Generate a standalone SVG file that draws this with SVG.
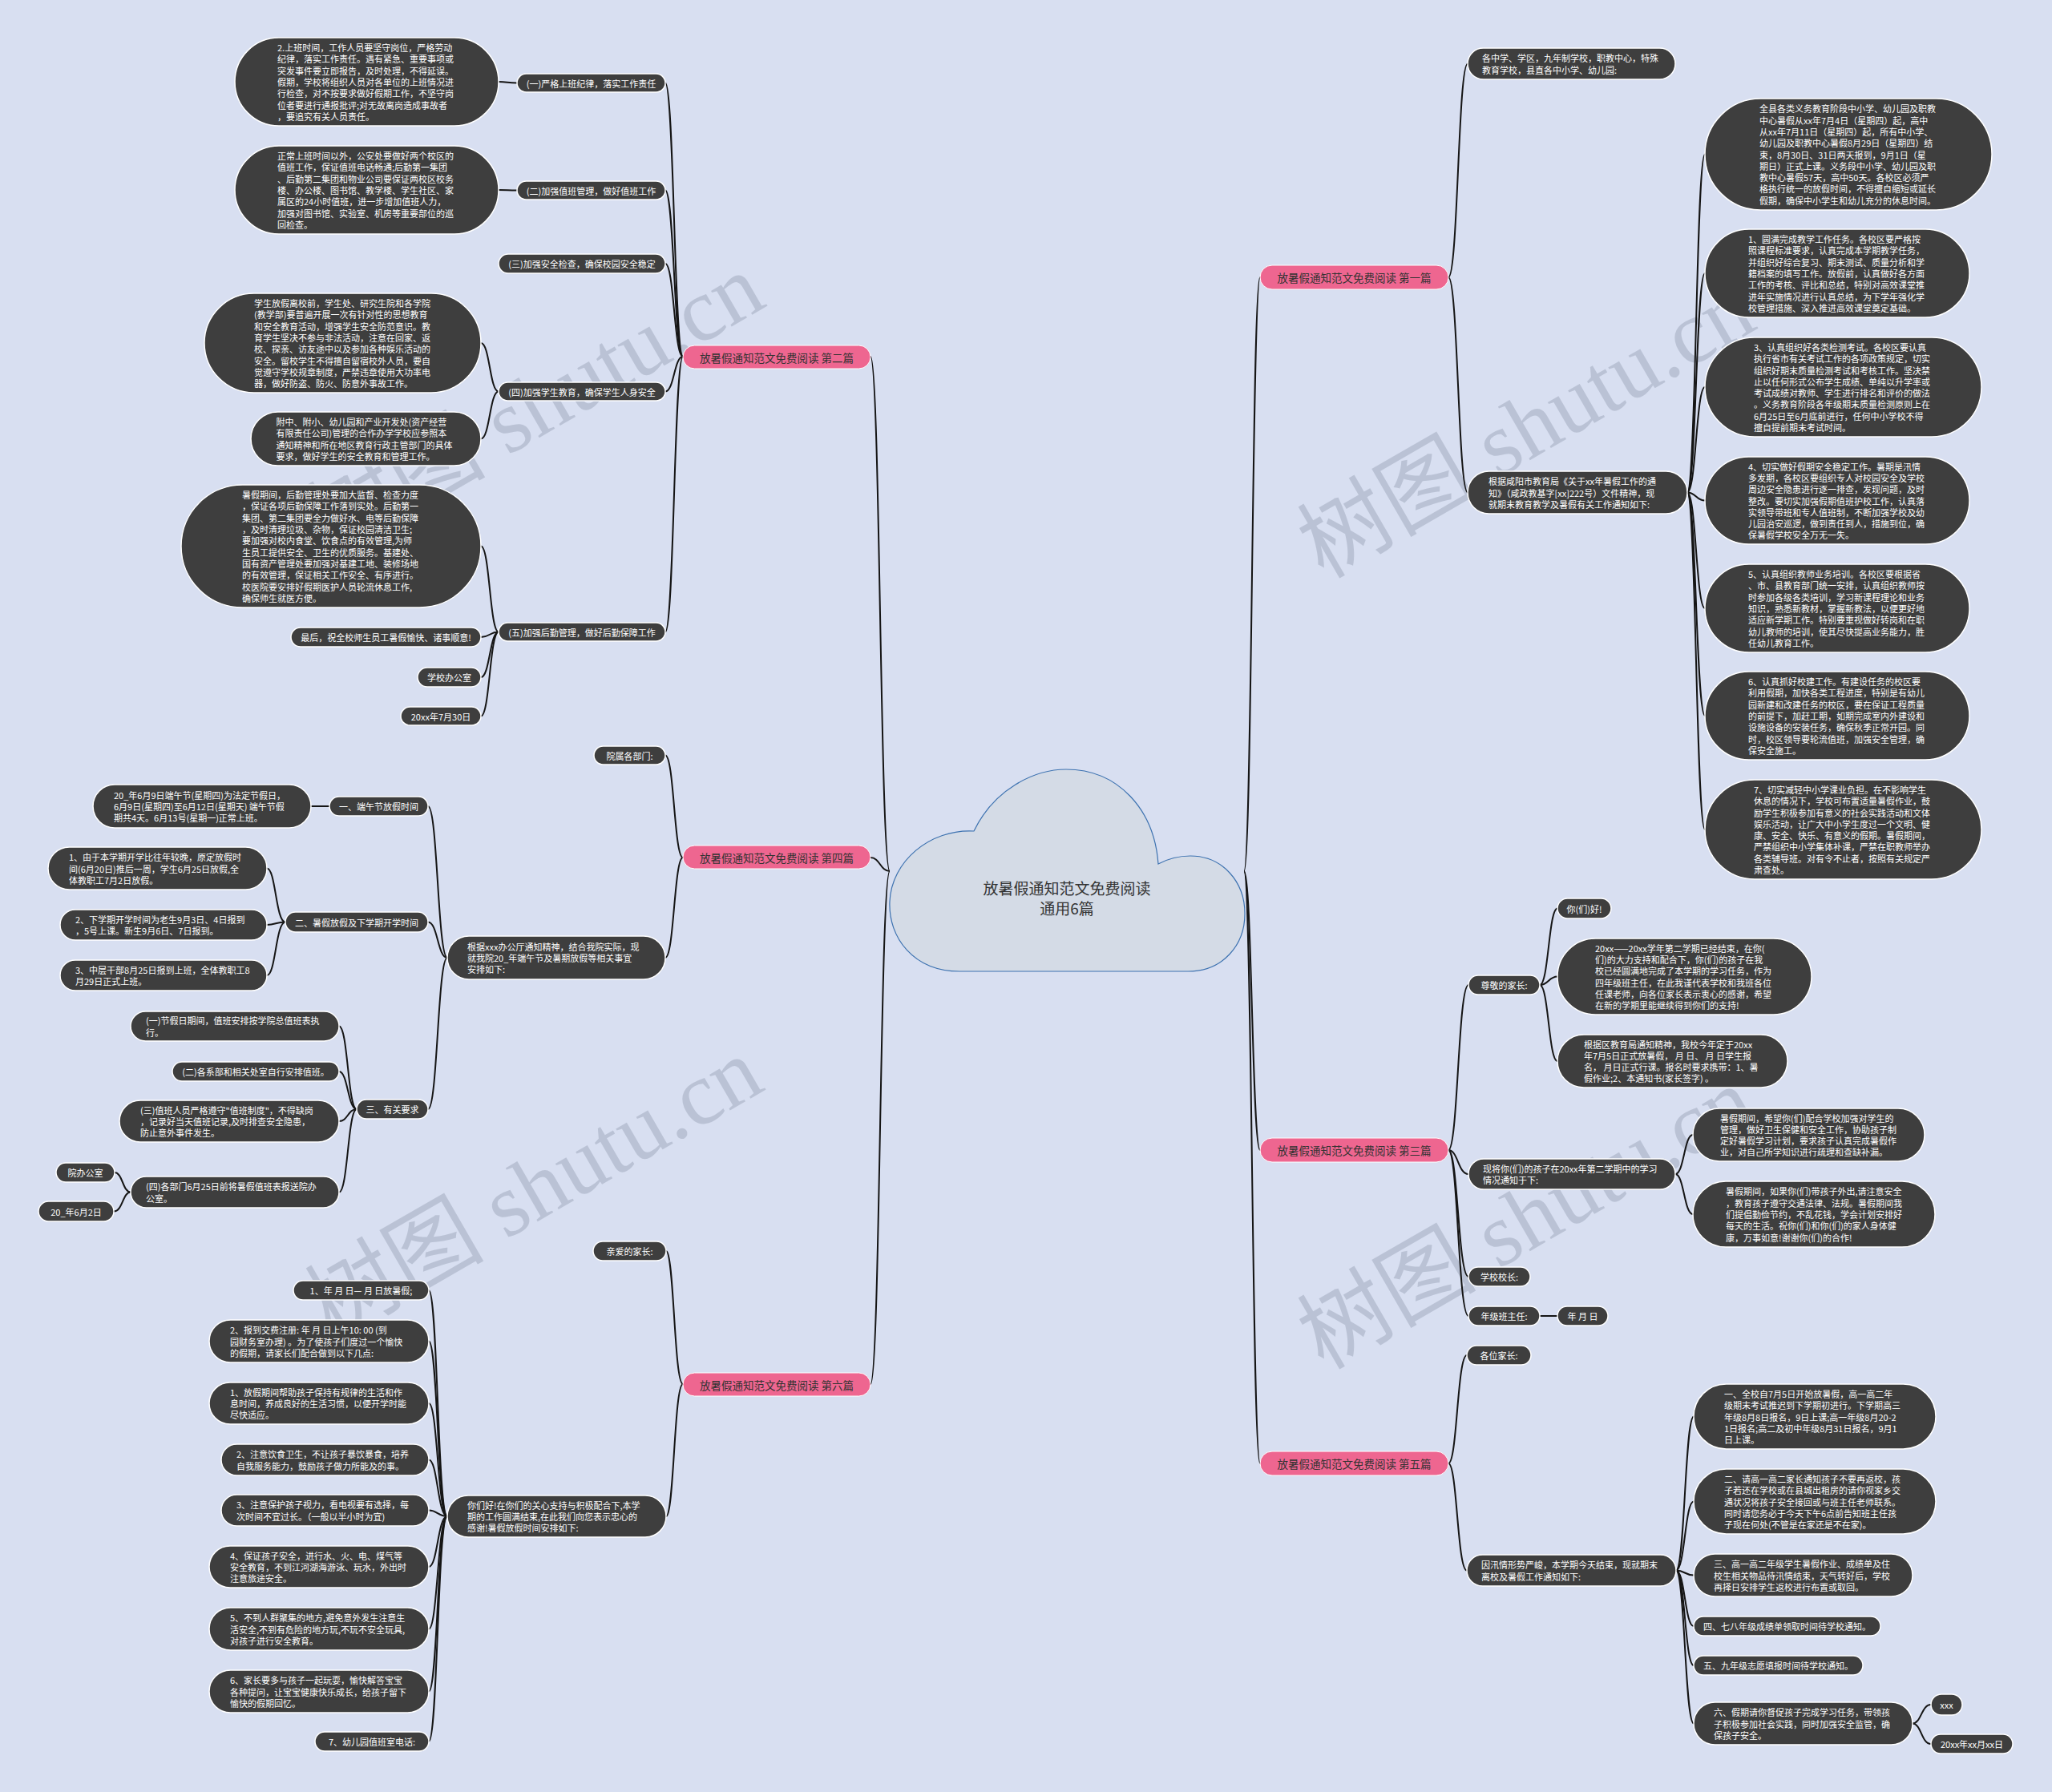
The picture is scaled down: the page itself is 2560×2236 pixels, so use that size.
<svg xmlns="http://www.w3.org/2000/svg" width="2560" height="2236" viewBox="0 0 2560 2236">
<style>
.bg{fill:#d8dff1}
.wm{font-family:"Liberation Serif","Noto Sans CJK SC",serif;font-size:112px;fill:#8f99ad;opacity:0.4;text-anchor:middle;dominant-baseline:central}
.lf rect{fill:#3e3e3e;stroke:#ffffff;stroke-width:1.5}
.lf text{font-family:"Noto Sans CJK SC","Noto Sans",sans-serif;font-size:11px;fill:#ffffff;dominant-baseline:central}
.c text{text-anchor:middle}
.br rect{fill:#ee6690;stroke:#ffffff;stroke-width:1}
.br text{font-family:"Noto Sans CJK SC","Noto Sans",sans-serif;font-size:13.5px;fill:#333333;text-anchor:middle;dominant-baseline:central}
.root path{fill:#d4dbe6;stroke:#3d72b0;stroke-width:1.2}
.root text{font-family:"Noto Sans CJK SC","Noto Sans",sans-serif;font-size:19px;fill:#333333;text-anchor:middle;dominant-baseline:central}
.edges path{fill:none;stroke:#151515;stroke-width:2}
</style>
<rect class="bg" x="0" y="0" width="2560" height="2236"/>
<g id="watermarks">
<text class="wm" x="668" y="505" transform="rotate(-30 668 505)">树图 shutu.cn</text>
<text class="wm" x="666" y="1483" transform="rotate(-30 666 1483)">树图 shutu.cn</text>
<text class="wm" x="1904" y="533" transform="rotate(-30 1904 533)">树图 shutu.cn</text>
<text class="wm" x="1904" y="1520" transform="rotate(-30 1904 1520)">树图 shutu.cn</text>
</g>
<g class="edges" id="connectors">
<path d="M1110 1087 C1098 1087,1098 445,1086 445"/>
<path d="M1110 1087 C1098 1087,1098 1070,1086 1070"/>
<path d="M1110 1087 C1098 1087,1098 1727,1086 1727"/>
<path d="M1552 1087 C1562 1087,1562 346,1572 346"/>
<path d="M1552 1087 C1562 1087,1562 1435,1572 1435"/>
<path d="M1552 1087 C1562 1087,1562 1826,1572 1826"/>
<path d="M852 445 C841 445,841 103.5,830 103.5"/>
<path d="M852 445 C841 445,841 237.5,830 237.5"/>
<path d="M852 445 C841 445,841 329,830 329"/>
<path d="M852 445 C841 445,841 488.5,830 488.5"/>
<path d="M852 445 C841 445,841 788.5,830 788.5"/>
<path d="M645 103.5 C633 103.5,633 102,622 102"/>
<path d="M645 237.5 C633 237.5,633 237,622 237"/>
<path d="M622 488.5 C611 488.5,611 428,600 428"/>
<path d="M622 488.5 C611 488.5,611 547.5,600 547.5"/>
<path d="M622 788.5 C611 788.5,611 681.5,600 681.5"/>
<path d="M622 788.5 C611 788.5,611 795,600 795"/>
<path d="M622 788.5 C611 788.5,611 845,600 845"/>
<path d="M622 788.5 C611 788.5,611 893.5,600 893.5"/>
<path d="M852 1070 C841 1070,841 942.5,830 942.5"/>
<path d="M852 1070 C841 1070,841 1195,830 1195"/>
<path d="M558 1195 C546 1195,546 1006,534 1006"/>
<path d="M558 1195 C546 1195,546 1150.5,534 1150.5"/>
<path d="M558 1195 C546 1195,546 1384,534 1384"/>
<path d="M411 1006 C400 1006,400 1006,388 1006"/>
<path d="M356 1150.5 C344 1150.5,344 1083.5,333 1083.5"/>
<path d="M356 1150.5 C344 1150.5,344 1154,333 1154"/>
<path d="M356 1150.5 C344 1150.5,344 1217,333 1217"/>
<path d="M445 1384 C434 1384,434 1280.5,423 1280.5"/>
<path d="M445 1384 C434 1384,434 1337,423 1337"/>
<path d="M445 1384 C434 1384,434 1399,423 1399"/>
<path d="M445 1384 C434 1384,434 1487.5,423 1487.5"/>
<path d="M163 1487.5 C153 1487.5,153 1463,143 1463"/>
<path d="M163 1487.5 C153 1487.5,153 1511.5,142 1511.5"/>
<path d="M852 1727 C841 1727,841 1561,831 1561"/>
<path d="M852 1727 C841 1727,841 1892,831 1892"/>
<path d="M558 1892 C546 1892,546 1610,535 1610"/>
<path d="M558 1892 C546 1892,546 1673.5,535 1673.5"/>
<path d="M558 1892 C546 1892,546 1751,535 1751"/>
<path d="M558 1892 C546 1892,546 1821.5,535 1821.5"/>
<path d="M558 1892 C546 1892,546 1884.5,535 1884.5"/>
<path d="M558 1892 C546 1892,546 1955,535 1955"/>
<path d="M558 1892 C546 1892,546 2032.5,535 2032.5"/>
<path d="M558 1892 C546 1892,546 2110.5,535 2110.5"/>
<path d="M558 1892 C546 1892,546 2173,535 2173"/>
<path d="M1807 346 C1819 346,1819 79.5,1831 79.5"/>
<path d="M1807 346 C1819 346,1819 614.5,1831 614.5"/>
<path d="M2105 614.5 C2116 614.5,2116 192.5,2127 192.5"/>
<path d="M2105 614.5 C2116 614.5,2116 341,2127 341"/>
<path d="M2105 614.5 C2116 614.5,2116 483,2127 483"/>
<path d="M2105 614.5 C2116 614.5,2116 624.5,2127 624.5"/>
<path d="M2105 614.5 C2116 614.5,2116 759,2127 759"/>
<path d="M2105 614.5 C2116 614.5,2116 893,2127 893"/>
<path d="M2105 614.5 C2116 614.5,2116 1035,2127 1035"/>
<path d="M1807 1435 C1819 1435,1819 1229,1832 1229"/>
<path d="M1807 1435 C1819 1435,1819 1465,1832 1465"/>
<path d="M1807 1435 C1819 1435,1819 1593,1832 1593"/>
<path d="M1807 1435 C1819 1435,1819 1642,1832 1642"/>
<path d="M1921 1229 C1932 1229,1932 1133.5,1943 1133.5"/>
<path d="M1921 1229 C1932 1229,1932 1218.5,1943 1218.5"/>
<path d="M1921 1229 C1932 1229,1932 1324,1943 1324"/>
<path d="M2090 1465 C2101 1465,2101 1416,2112 1416"/>
<path d="M2090 1465 C2101 1465,2101 1515,2112 1515"/>
<path d="M1921 1642 C1932 1642,1932 1642,1943 1642"/>
<path d="M1807 1826 C1818 1826,1818 1691,1830 1691"/>
<path d="M1807 1826 C1818 1826,1818 1959.5,1830 1959.5"/>
<path d="M2091 1959.5 C2102 1959.5,2102 1767.5,2113 1767.5"/>
<path d="M2091 1959.5 C2102 1959.5,2102 1873.5,2113 1873.5"/>
<path d="M2091 1959.5 C2102 1959.5,2102 1965.5,2113 1965.5"/>
<path d="M2091 1959.5 C2102 1959.5,2102 2029,2113 2029"/>
<path d="M2091 1959.5 C2102 1959.5,2102 2078,2113 2078"/>
<path d="M2091 1959.5 C2102 1959.5,2102 2150.5,2113 2150.5"/>
<path d="M2386 2150.5 C2397 2150.5,2397 2127,2409 2127"/>
<path d="M2386 2150.5 C2397 2150.5,2397 2176,2409 2176"/>
</g>
<g id="root" class="root">
<path d="M1197 1212 C1140 1212,1108 1170,1110 1125 C1112 1075,1160 1034,1215 1037 C1240 985,1290 960,1330 960 C1395 960,1440 1010,1445 1078 C1460 1070,1475 1068,1485 1068 C1525 1068,1553 1100,1553 1140 C1553 1180,1525 1212,1482 1212 Z"/>
<text x="1331" y="1107">放暑假通知范文免费阅读</text>
<text x="1331" y="1132">通用6篇</text>
</g>
<g id="b2" class="br"><rect x="852" y="431" width="234" height="29" rx="14.5"/><text x="969" y="445.5">放暑假通知范文免费阅读 第二篇</text></g>
<g id="b4" class="br"><rect x="852" y="1055" width="234" height="29" rx="14.5"/><text x="969" y="1069.5">放暑假通知范文免费阅读 第四篇</text></g>
<g id="b6" class="br"><rect x="852" y="1713" width="234" height="29" rx="14.5"/><text x="969" y="1727.5">放暑假通知范文免费阅读 第六篇</text></g>
<g id="b1" class="br"><rect x="1572" y="331" width="235" height="30" rx="15"/><text x="1689.5" y="346">放暑假通知范文免费阅读 第一篇</text></g>
<g id="b3" class="br"><rect x="1572" y="1420" width="235" height="30" rx="15"/><text x="1689.5" y="1435">放暑假通知范文免费阅读 第三篇</text></g>
<g id="b5" class="br"><rect x="1572" y="1811" width="235" height="30" rx="15"/><text x="1689.5" y="1826">放暑假通知范文免费阅读 第五篇</text></g>

<g id="n2-1" class="lf c"><rect x="645" y="92" width="185" height="23" rx="11.5"/><text x="737.5" y="103.5">(一)严格上班纪律，落实工作责任</text></g>
<g id="n2-2" class="lf c"><rect x="645" y="226" width="185" height="23" rx="11.5"/><text x="737.5" y="237.5">(二)加强值班管理，做好值班工作</text></g>
<g id="n2-3" class="lf c"><rect x="622" y="317" width="208" height="24" rx="12"/><text x="726" y="329">(三)加强安全检查，确保校园安全稳定</text></g>
<g id="n2-4" class="lf c"><rect x="622" y="477" width="208" height="23" rx="11.5"/><text x="726" y="488.5">(四)加强学生教育，确保学生人身安全</text></g>
<g id="n2-5" class="lf c"><rect x="622" y="777" width="208" height="23" rx="11.5"/><text x="726" y="788.5">(五)加强后勤管理，做好后勤保障工作</text></g>
<g id="n2-1a" class="lf"><rect x="293" y="47" width="329" height="110" rx="55"/><text x="346" y="59.1"><tspan x="346">2.上班时间，工作人员要坚守岗位，严格劳动</tspan><tspan x="346" dy="14.3">纪律，落实工作责任。遇有紧急、重要事项或</tspan><tspan x="346" dy="14.3">突发事件要立即报告，及时处理，不得延误。</tspan><tspan x="346" dy="14.3">假期，学校将组织人员对各单位的上班情况进</tspan><tspan x="346" dy="14.3">行检查，对不按要求做好假期工作，不坚守岗</tspan><tspan x="346" dy="14.3">位者要进行通报批评;对无故离岗造成事故者</tspan><tspan x="346" dy="14.3">，要追究有关人员责任。</tspan></text></g>
<g id="n2-2a" class="lf"><rect x="293" y="182" width="329" height="110" rx="55"/><text x="346" y="194.1"><tspan x="346">正常上班时间以外，公安处要做好两个校区的</tspan><tspan x="346" dy="14.3">值班工作，保证值班电话畅通;后勤第一集团</tspan><tspan x="346" dy="14.3">、后勤第二集团和物业公司要保证两校区校务</tspan><tspan x="346" dy="14.3">楼、办公楼、图书馆、教学楼、学生社区、家</tspan><tspan x="346" dy="14.3">属区的24小时值班，进一步增加值班人力，</tspan><tspan x="346" dy="14.3">加强对图书馆、实验室、机房等重要部位的巡</tspan><tspan x="346" dy="14.3">回检查。</tspan></text></g>
<g id="n2-4a" class="lf"><rect x="255" y="366" width="345" height="124" rx="62"/><text x="317" y="378"><tspan x="317">学生放假离校前，学生处、研究生院和各学院</tspan><tspan x="317" dy="14.3">(教学部)要普遍开展一次有针对性的思想教育</tspan><tspan x="317" dy="14.3">和安全教育活动，增强学生安全防范意识。教</tspan><tspan x="317" dy="14.3">育学生坚决不参与非法活动，注意在回家、返</tspan><tspan x="317" dy="14.3">校、探亲、访友途中以及参加各种娱乐活动的</tspan><tspan x="317" dy="14.3">安全。留校学生不得擅自留宿校外人员，要自</tspan><tspan x="317" dy="14.3">觉遵守学校规章制度，严禁违章使用大功率电</tspan><tspan x="317" dy="14.3">器，做好防盗、防火、防意外事故工作。</tspan></text></g>
<g id="n2-4b" class="lf"><rect x="313" y="514" width="287" height="67" rx="33.5"/><text x="344.5" y="526.05"><tspan x="344.5">附中、附小、幼儿园和产业开发处(资产经营</tspan><tspan x="344.5" dy="14.3">有限责任公司)管理的合作办学学校应参照本</tspan><tspan x="344.5" dy="14.3">通知精神和所在地区教育行政主管部门的具体</tspan><tspan x="344.5" dy="14.3">要求，做好学生的安全教育和管理工作。</tspan></text></g>
<g id="n2-5a" class="lf"><rect x="226" y="605" width="374" height="153" rx="76.5"/><text x="302" y="617.15"><tspan x="302">暑假期间，后勤管理处要加大监督、检查力度</tspan><tspan x="302" dy="14.3">，保证各项后勤保障工作落到实处。后勤第一</tspan><tspan x="302" dy="14.3">集团、第二集团要全力做好水、电等后勤保障</tspan><tspan x="302" dy="14.3">，及时清理垃圾、杂物，保证校园清洁卫生;</tspan><tspan x="302" dy="14.3">要加强对校内食堂、饮食点的有效管理,为师</tspan><tspan x="302" dy="14.3">生员工提供安全、卫生的优质服务。基建处、</tspan><tspan x="302" dy="14.3">国有资产管理处要加强对基建工地、装修场地</tspan><tspan x="302" dy="14.3">的有效管理，保证相关工作安全、有序进行。</tspan><tspan x="302" dy="14.3">校医院要安排好假期医护人员轮流休息工作,</tspan><tspan x="302" dy="14.3">确保师生就医方便。</tspan></text></g>
<g id="n2-5b" class="lf c"><rect x="363" y="783" width="237" height="24" rx="12"/><text x="481.5" y="795">最后，祝全校师生员工暑假愉快、诸事顺意!</text></g>
<g id="n2-5c" class="lf c"><rect x="521" y="833" width="79" height="24" rx="12"/><text x="560.5" y="845">学校办公室</text></g>
<g id="n2-5d" class="lf c"><rect x="500" y="882" width="100" height="23" rx="11.5"/><text x="550" y="893.5">20xx年7月30日</text></g>

<g id="n4-0" class="lf c"><rect x="741" y="931" width="89" height="23" rx="11.5"/><text x="785.5" y="942.5">院属各部门:</text></g>
<g id="n4-1" class="lf"><rect x="558" y="1168" width="272" height="54" rx="27"/><text x="583" y="1180.7"><tspan x="583">根据xxx办公厅通知精神，结合我院实际，现</tspan><tspan x="583" dy="14.3">就我院20_年端午节及暑期放假等相关事宜</tspan><tspan x="583" dy="14.3">安排如下:</tspan></text></g>
<g id="n4-s1" class="lf c"><rect x="411" y="994" width="123" height="24" rx="12"/><text x="472.5" y="1006">一、端午节放假时间</text></g>
<g id="n4-s2" class="lf c"><rect x="356" y="1138" width="178" height="25" rx="12.5"/><text x="445" y="1150.5">二、暑假放假及下学期开学时间</text></g>
<g id="n4-s3" class="lf c"><rect x="445" y="1372" width="89" height="24" rx="12"/><text x="489.5" y="1384">三、有关要求</text></g>
<g id="n4-l1" class="lf"><rect x="116" y="979" width="272" height="54" rx="27"/><text x="142" y="991.7"><tspan x="142">20_年6月9日端午节(星期四)为法定节假日，</tspan><tspan x="142" dy="14.3">6月9日(星期四)至6月12日(星期天) 端午节假</tspan><tspan x="142" dy="14.3">期共4天。6月13号(星期一)正常上班。</tspan></text></g>
<g id="n4-l2a" class="lf"><rect x="60" y="1057" width="273" height="53" rx="26.5"/><text x="86" y="1069.2"><tspan x="86">1、由于本学期开学比往年较晚，原定放假时</tspan><tspan x="86" dy="14.3">间(6月20日)推后一周，学生6月25日放假,全</tspan><tspan x="86" dy="14.3">体教职工7月2日放假。</tspan></text></g>
<g id="n4-l2b" class="lf"><rect x="75" y="1135" width="258" height="38" rx="19"/><text x="94" y="1146.85"><tspan x="94">2、下学期开学时间为老生9月3日、4日报到</tspan><tspan x="94" dy="14.3">，5号上课。新生9月6日、7日报到。</tspan></text></g>
<g id="n4-l2c" class="lf"><rect x="75" y="1198" width="258" height="38" rx="19"/><text x="94" y="1209.85"><tspan x="94">3、中层干部8月25日报到上班，全体教职工8</tspan><tspan x="94" dy="14.3">月29日正式上班。</tspan></text></g>
<g id="n4-l3a" class="lf"><rect x="163" y="1262" width="260" height="37" rx="18.5"/><text x="182" y="1273.35"><tspan x="182">(一)节假日期间，值班安排按学院总值班表执</tspan><tspan x="182" dy="14.3">行。</tspan></text></g>
<g id="n4-l3b" class="lf c"><rect x="215" y="1325" width="208" height="24" rx="12"/><text x="319" y="1337">(二)各系部和相关处室自行安排值班。</text></g>
<g id="n4-l3c" class="lf"><rect x="149" y="1373" width="274" height="52" rx="26"/><text x="175" y="1384.7"><tspan x="175">(三)值班人员严格遵守"值班制度"，不得缺岗</tspan><tspan x="175" dy="14.3">，记录好当天值班记录,及时排查安全隐患，</tspan><tspan x="175" dy="14.3">防止意外事件发生。</tspan></text></g>
<g id="n4-l3d" class="lf"><rect x="163" y="1468" width="260" height="39" rx="19.5"/><text x="182" y="1480.35"><tspan x="182">(四)各部门6月25日前将暑假值班表报送院办</tspan><tspan x="182" dy="14.3">公室。</tspan></text></g>
<g id="n4-l3d1" class="lf c"><rect x="70" y="1451" width="73" height="24" rx="12"/><text x="106.5" y="1463">院办公室</text></g>
<g id="n4-l3d2" class="lf c"><rect x="48" y="1499" width="94" height="25" rx="12.5"/><text x="95" y="1511.5">20_年6月2日</text></g>

<g id="n6-0" class="lf c"><rect x="740" y="1549" width="91" height="24" rx="12"/><text x="785.5" y="1561">亲爱的家长:</text></g>
<g id="n6-1" class="lf"><rect x="558" y="1866" width="273" height="52" rx="26"/><text x="583" y="1877.7"><tspan x="583">你们好!在你们的关心支持与积极配合下,本学</tspan><tspan x="583" dy="14.3">期的工作圆满结束,在此我们向您表示忠心的</tspan><tspan x="583" dy="14.3">感谢!暑假放假时间安排如下:</tspan></text></g>
<g id="n6-a" class="lf c"><rect x="366" y="1598" width="169" height="24" rx="12"/><text x="450.5" y="1610">1、年 月 日— 月 日放暑假;</text></g>
<g id="n6-b" class="lf"><rect x="261" y="1647" width="274" height="53" rx="26.5"/><text x="287" y="1659.2"><tspan x="287">2、报到交费注册:  年 月 日上午10: 00 (到</tspan><tspan x="287" dy="14.3">园财务室办理) 。为了使孩子们度过一个愉快</tspan><tspan x="287" dy="14.3">的假期，请家长们配合做到以下几点:</tspan></text></g>
<g id="n6-c" class="lf"><rect x="261" y="1725" width="274" height="52" rx="26"/><text x="287" y="1736.7"><tspan x="287">1、放假期间帮助孩子保持有规律的生活和作</tspan><tspan x="287" dy="14.3">息时间，养成良好的生活习惯，以便开学时能</tspan><tspan x="287" dy="14.3">尽快适应。</tspan></text></g>
<g id="n6-d" class="lf"><rect x="276" y="1802" width="259" height="39" rx="19.5"/><text x="295" y="1814.35"><tspan x="295">2、注意饮食卫生，不让孩子暴饮暴食，培养</tspan><tspan x="295" dy="14.3">自我服务能力，鼓励孩子做力所能及的事。</tspan></text></g>
<g id="n6-e" class="lf"><rect x="276" y="1865" width="259" height="39" rx="19.5"/><text x="295" y="1877.35"><tspan x="295">3、注意保护孩子视力，看电视要有选择，每</tspan><tspan x="295" dy="14.3">次时间不宜过长。（一般以半小时为宜)</tspan></text></g>
<g id="n6-f" class="lf"><rect x="261" y="1929" width="274" height="52" rx="26"/><text x="287" y="1940.7"><tspan x="287">4、保证孩子安全，进行水、火、电、煤气等</tspan><tspan x="287" dy="14.3">安全教育，不到江河湖海游泳、玩水，外出时</tspan><tspan x="287" dy="14.3">注意旅途安全。</tspan></text></g>
<g id="n6-g" class="lf"><rect x="261" y="2006" width="274" height="53" rx="26.5"/><text x="287" y="2018.2"><tspan x="287">5、不到人群聚集的地方,避免意外发生注意生</tspan><tspan x="287" dy="14.3">活安全,不到有危险的地方玩,不玩不安全玩具,</tspan><tspan x="287" dy="14.3">对孩子进行安全教育。</tspan></text></g>
<g id="n6-h" class="lf"><rect x="261" y="2084" width="274" height="53" rx="26.5"/><text x="287" y="2096.2"><tspan x="287">6、家长要多与孩子一起玩耍，愉快解答宝宝</tspan><tspan x="287" dy="14.3">各种提问，让宝宝健康快乐成长，给孩子留下</tspan><tspan x="287" dy="14.3">愉快的假期回忆。</tspan></text></g>
<g id="n6-i" class="lf c"><rect x="393" y="2161" width="142" height="24" rx="12"/><text x="464" y="2173">7、幼儿园值班室电话:</text></g>

<g id="n1-0" class="lf"><rect x="1831" y="60" width="259" height="39" rx="19.5"/><text x="1849" y="72.35"><tspan x="1849">各中学、学区，九年制学校，职教中心，特殊</tspan><tspan x="1849" dy="14.3">教育学校，县直各中小学、幼儿园:</tspan></text></g>
<g id="n1-1" class="lf"><rect x="1831" y="588" width="274" height="53" rx="26.5"/><text x="1857" y="600.2"><tspan x="1857">根据咸阳市教育局《关于xx年暑假工作的通</tspan><tspan x="1857" dy="14.3">知》（咸政教基字[xx]222号）文件精神，现</tspan><tspan x="1857" dy="14.3">就期末教育教学及暑假有关工作通知如下:</tspan></text></g>
<g id="n1-a" class="lf"><rect x="2127" y="123" width="358" height="139" rx="69.5"/><text x="2195" y="135.3"><tspan x="2195">全县各类义务教育阶段中小学、幼儿园及职教</tspan><tspan x="2195" dy="14.3">中心暑假从xx年7月4日（星期四）起，高中</tspan><tspan x="2195" dy="14.3">从xx年7月11日（星期四）起，所有中小学、</tspan><tspan x="2195" dy="14.3">幼儿园及职教中心暑假8月29日（星期四）结</tspan><tspan x="2195" dy="14.3">束，8月30日、31日两天报到，9月1日（星</tspan><tspan x="2195" dy="14.3">期日）正式上课。义务段中小学、幼儿园及职</tspan><tspan x="2195" dy="14.3">教中心暑假57天，高中50天。各校区必须严</tspan><tspan x="2195" dy="14.3">格执行统一的放假时间，不得擅自缩短或延长</tspan><tspan x="2195" dy="14.3">假期，确保中小学生和幼儿充分的休息时间。</tspan></text></g>
<g id="n1-b" class="lf"><rect x="2127" y="286" width="330" height="110" rx="55"/><text x="2181" y="298.1"><tspan x="2181">1、圆满完成教学工作任务。各校区要严格按</tspan><tspan x="2181" dy="14.3">照课程标准要求，认真完成本学期教学任务，</tspan><tspan x="2181" dy="14.3">并组织好综合复习、期末测试、质量分析和学</tspan><tspan x="2181" dy="14.3">籍档案的填写工作。放假前，认真做好各方面</tspan><tspan x="2181" dy="14.3">工作的考核、评比和总结，特别对高效课堂推</tspan><tspan x="2181" dy="14.3">进年实施情况进行认真总结，为下学年强化学</tspan><tspan x="2181" dy="14.3">校管理措施、深入推进高效课堂奠定基础。</tspan></text></g>
<g id="n1-c" class="lf"><rect x="2127" y="421" width="345" height="124" rx="62"/><text x="2188" y="432.95"><tspan x="2188">3、认真组织好各类检测考试。各校区要认真</tspan><tspan x="2188" dy="14.3">执行省市有关考试工作的各项政策规定，切实</tspan><tspan x="2188" dy="14.3">组织好期末质量检测考试和考核工作。坚决禁</tspan><tspan x="2188" dy="14.3">止以任何形式公布学生成绩、单纯以升学率或</tspan><tspan x="2188" dy="14.3">考试成绩对教师、学生进行排名和评价的做法</tspan><tspan x="2188" dy="14.3">。义务教育阶段各年级期末质量检测原则上在</tspan><tspan x="2188" dy="14.3">6月25日至6月底前进行，任何中小学校不得</tspan><tspan x="2188" dy="14.3">擅自提前期末考试时间。</tspan></text></g>
<g id="n1-d" class="lf"><rect x="2127" y="570" width="330" height="109" rx="54.5"/><text x="2181" y="581.6"><tspan x="2181">4、切实做好假期安全稳定工作。暑期是汛情</tspan><tspan x="2181" dy="14.3">多发期，各校区要组织专人对校园安全及学校</tspan><tspan x="2181" dy="14.3">周边安全隐患进行逐一排查，发现问题，及时</tspan><tspan x="2181" dy="14.3">整改。要切实加强假期值班护校工作，认真落</tspan><tspan x="2181" dy="14.3">实领导带班和专人值班制，不断加强学校及幼</tspan><tspan x="2181" dy="14.3">儿园治安巡逻，做到责任到人，措施到位，确</tspan><tspan x="2181" dy="14.3">保暑假学校安全万无一失。</tspan></text></g>
<g id="n1-e" class="lf"><rect x="2127" y="704" width="330" height="110" rx="55"/><text x="2181" y="716.1"><tspan x="2181">5、认真组织教师业务培训。各校区要根据省</tspan><tspan x="2181" dy="14.3">、市、县教育部门统一安排，认真组织教师按</tspan><tspan x="2181" dy="14.3">时参加各级各类培训，学习新课程理论和业务</tspan><tspan x="2181" dy="14.3">知识，熟悉新教材，掌握新教法，以便更好地</tspan><tspan x="2181" dy="14.3">适应新学期工作。特别要重视做好转岗和在职</tspan><tspan x="2181" dy="14.3">幼儿教师的培训，使其尽快提高业务能力，胜</tspan><tspan x="2181" dy="14.3">任幼儿教育工作。</tspan></text></g>
<g id="n1-f" class="lf"><rect x="2127" y="838" width="330" height="110" rx="55"/><text x="2181" y="850.1"><tspan x="2181">6、认真抓好校建工作。有建设任务的校区要</tspan><tspan x="2181" dy="14.3">利用假期，加快各类工程进度，特别是有幼儿</tspan><tspan x="2181" dy="14.3">园新建和改建任务的校区，要在保证工程质量</tspan><tspan x="2181" dy="14.3">的前提下，加赶工期，如期完成室内外建设和</tspan><tspan x="2181" dy="14.3">设施设备的安装任务，确保秋季正常开园。同</tspan><tspan x="2181" dy="14.3">时，校区领导要轮流值班，加强安全管理，确</tspan><tspan x="2181" dy="14.3">保安全施工。</tspan></text></g>
<g id="n1-g" class="lf"><rect x="2127" y="973" width="345" height="124" rx="62"/><text x="2188" y="984.95"><tspan x="2188">7、切实减轻中小学课业负担。在不影响学生</tspan><tspan x="2188" dy="14.3">休息的情况下，学校可布置适量暑假作业，鼓</tspan><tspan x="2188" dy="14.3">励学生积极参加有意义的社会实践活动和文体</tspan><tspan x="2188" dy="14.3">娱乐活动，让广大中小学生度过一个文明、健</tspan><tspan x="2188" dy="14.3">康、安全、快乐、有意义的假期。暑假期间，</tspan><tspan x="2188" dy="14.3">严禁组织中小学集体补课，严禁在职教师举办</tspan><tspan x="2188" dy="14.3">各类辅导班。对有令不止者，按照有关规定严</tspan><tspan x="2188" dy="14.3">肃查处。</tspan></text></g>

<g id="n3-0" class="lf c"><rect x="1832" y="1217" width="89" height="24" rx="12"/><text x="1876.5" y="1229">尊敬的家长:</text></g>
<g id="n3-0a" class="lf c"><rect x="1943" y="1121" width="67" height="25" rx="12.5"/><text x="1976.5" y="1133.5">你(们)好!</text></g>
<g id="n3-0b" class="lf"><rect x="1943" y="1171" width="317" height="95" rx="47.5"/><text x="1990" y="1182.75"><tspan x="1990">20xx——20xx学年第二学期已经结束，在你(</tspan><tspan x="1990" dy="14.3">们)的大力支持和配合下，你(们)的孩子在我</tspan><tspan x="1990" dy="14.3">校已经圆满地完成了本学期的学习任务，作为</tspan><tspan x="1990" dy="14.3">四年级班主任，在此我谨代表学校和我班各位</tspan><tspan x="1990" dy="14.3">任课老师，向各位家长表示衷心的感谢，希望</tspan><tspan x="1990" dy="14.3">在新的学期里能继续得到你们的支持!</tspan></text></g>
<g id="n3-0c" class="lf"><rect x="1943" y="1291" width="287" height="66" rx="33"/><text x="1976" y="1302.55"><tspan x="1976">根据区教育局通知精神，我校今年定于20xx</tspan><tspan x="1976" dy="14.3">年7月5日正式放暑假， 月 日、 月 日学生报</tspan><tspan x="1976" dy="14.3">名， 月日正式行课。报名时要求携带：1、暑</tspan><tspan x="1976" dy="14.3">假作业;2、本通知书(家长签字) 。</tspan></text></g>
<g id="n3-1" class="lf"><rect x="1832" y="1446" width="258" height="38" rx="19"/><text x="1850" y="1457.85"><tspan x="1850">现将你(们)的孩子在20xx年第二学期中的学习</tspan><tspan x="1850" dy="14.3">情况通知于下:</tspan></text></g>
<g id="n3-1a" class="lf"><rect x="2112" y="1383" width="289" height="66" rx="33"/><text x="2146" y="1394.55"><tspan x="2146">暑假期间，希望你(们)配合学校加强对学生的</tspan><tspan x="2146" dy="14.3">管理，做好卫生保健和安全工作，协助孩子制</tspan><tspan x="2146" dy="14.3">定好暑假学习计划，要求孩子认真完成暑假作</tspan><tspan x="2146" dy="14.3">业，对自己所学知识进行疏理和查缺补漏。</tspan></text></g>
<g id="n3-1b" class="lf"><rect x="2112" y="1474" width="302" height="82" rx="41"/><text x="2153" y="1486.4"><tspan x="2153">暑假期间，如果你(们)带孩子外出,请注意安全</tspan><tspan x="2153" dy="14.3">，教育孩子遵守交通法律、法规。暑假期间我</tspan><tspan x="2153" dy="14.3">们提倡勤俭节约，不乱花钱，学会计划安排好</tspan><tspan x="2153" dy="14.3">每天的生活。祝你(们)和你(们)的家人身体健</tspan><tspan x="2153" dy="14.3">康，万事如意!谢谢你(们)的合作!</tspan></text></g>
<g id="n3-2" class="lf c"><rect x="1832" y="1581" width="77" height="24" rx="12"/><text x="1870.5" y="1593">学校校长:</text></g>
<g id="n3-3" class="lf c"><rect x="1832" y="1630" width="89" height="24" rx="12"/><text x="1876.5" y="1642">年级班主任:</text></g>
<g id="n3-3a" class="lf c"><rect x="1943" y="1630" width="63" height="24" rx="12"/><text x="1974.5" y="1642">年 月 日</text></g>

<g id="n5-0" class="lf c"><rect x="1830" y="1679" width="80" height="24" rx="12"/><text x="1870" y="1691">各位家长:</text></g>
<g id="n5-1" class="lf"><rect x="1830" y="1940" width="261" height="39" rx="19.5"/><text x="1848" y="1952.35"><tspan x="1848">因汛情形势严峻，本学期今天结束，现就期末</tspan><tspan x="1848" dy="14.3">离校及暑假工作通知如下:</tspan></text></g>
<g id="n5-a" class="lf"><rect x="2113" y="1727" width="302" height="81" rx="40.5"/><text x="2151" y="1738.9"><tspan x="2151">一、全校自7月5日开始放暑假，高一高二年</tspan><tspan x="2151" dy="14.3">级期末考试推迟到下学期初进行。下学期高三</tspan><tspan x="2151" dy="14.3">年级8月8日报名，9日上课;高一年级8月20-2</tspan><tspan x="2151" dy="14.3">1日报名;高二及初中年级8月31日报名，9月1</tspan><tspan x="2151" dy="14.3">日上课。</tspan></text></g>
<g id="n5-b" class="lf"><rect x="2113" y="1833" width="302" height="81" rx="40.5"/><text x="2151" y="1844.9"><tspan x="2151">二、请高一高二家长通知孩子不要再返校，孩</tspan><tspan x="2151" dy="14.3">子若还在学校或在县城出租房的请你视家乡交</tspan><tspan x="2151" dy="14.3">通状况将孩子安全接回或与班主任老师联系。</tspan><tspan x="2151" dy="14.3">同时请您务必于今天下午6点前告知班主任孩</tspan><tspan x="2151" dy="14.3">子现在何处(不管是在家还是不在家)。</tspan></text></g>
<g id="n5-c" class="lf"><rect x="2113" y="1939" width="273" height="53" rx="26.5"/><text x="2138" y="1951.2"><tspan x="2138">三、高一高二年级学生暑假作业、成绩单及住</tspan><tspan x="2138" dy="14.3">校生相关物品待汛情结束，天气转好后，学校</tspan><tspan x="2138" dy="14.3">再择日安排学生返校进行布置或取回。</tspan></text></g>
<g id="n5-d" class="lf c"><rect x="2113" y="2017" width="233" height="24" rx="12"/><text x="2229.5" y="2029">四、七八年级成绩单领取时间待学校通知。</text></g>
<g id="n5-e" class="lf c"><rect x="2113" y="2066" width="211" height="24" rx="12"/><text x="2218.5" y="2078">五、九年级志愿填报时间待学校通知。</text></g>
<g id="n5-f" class="lf"><rect x="2113" y="2124" width="273" height="53" rx="26.5"/><text x="2138" y="2136.2"><tspan x="2138">六、假期请你督促孩子完成学习任务，带领孩</tspan><tspan x="2138" dy="14.3">子积极参加社会实践，同时加强安全监管，确</tspan><tspan x="2138" dy="14.3">保孩子安全。</tspan></text></g>
<g id="n5-f1" class="lf c"><rect x="2409" y="2114" width="39" height="26" rx="13"/><text x="2428.5" y="2127">xxx</text></g>
<g id="n5-f2" class="lf c"><rect x="2409" y="2164" width="102" height="24" rx="12"/><text x="2460" y="2176">20xx年xx月xx日</text></g>
</svg>
